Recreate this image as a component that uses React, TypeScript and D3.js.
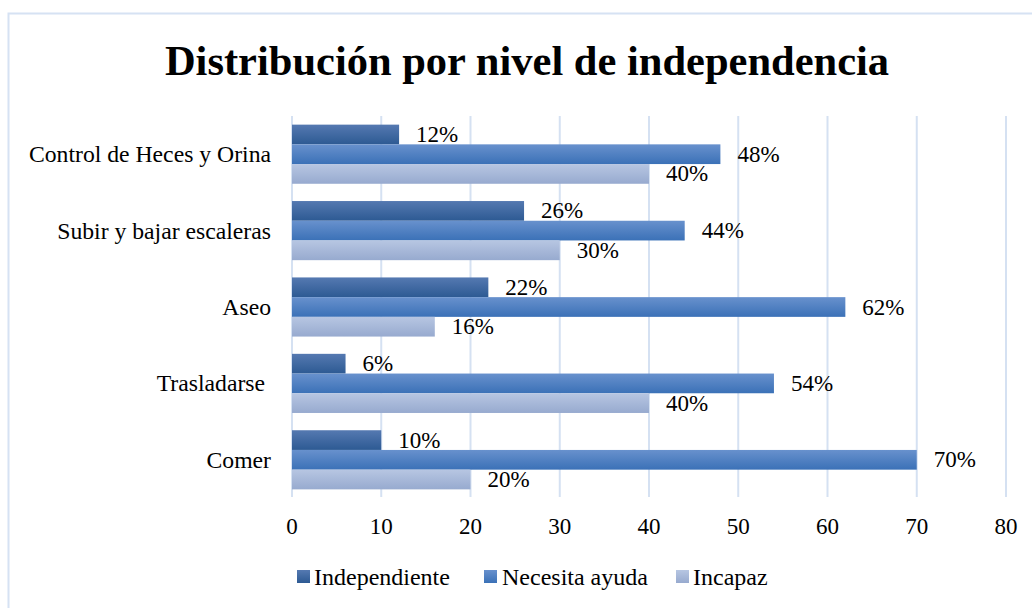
import React from "react";
import * as d3 from "d3";

const categories = ["Control de Heces y Orina", "Subir y bajar escaleras", "Aseo", "Trasladarse ", "Comer"];
const seriesNames = ["Independiente", "Necesita ayuda", "Incapaz"];
const independiente = [12, 26, 22, 6, 10];
const necesitaAyuda = [48, 44, 62, 54, 70];
const incapaz = [40, 30, 16, 40, 20];
const xTicks = [0, 10, 20, 30, 40, 50, 60, 70, 80];
const title = "Distribución por nivel de independencia";

const seriesValues = [independiente, necesitaAyuda, incapaz];
const gradients = [
  ["#5579b1", "#2d5a93"],
  ["#6891cd", "#3b71b7"],
  ["#b7c6e2", "#97aacf"],
];

const FONT = "'Liberation Serif', 'Times New Roman', serif";

export default function App() {
  const W = 1032, H = 608;
  const left = 292, right = 1006, top = 116, bottom = 498;
  const x = d3.scaleLinear().domain([0, 80]).range([left, right]);
  const y = d3.scaleBand().domain(categories).range([top, bottom]).paddingInner(0.226).paddingOuter(0.113);
  const inner = d3.scaleBand().domain(seriesNames).range([0, y.bandwidth()]);

  const legendItems = [
    { sx: 297, tx: 314 },
    { sx: 484, tx: 502 },
    { sx: 676, tx: 693 },
  ];

  return (
    <svg width={W} height={H} style={{ position: "absolute", left: 0, top: 0, background: "#fff" }}>
      <defs>
        {gradients.map((g, i) => (
          <linearGradient key={i} id={`g${i}`} x1="0" y1="0" x2="0" y2="1">
            <stop offset="0%" stopColor={g[0]} />
            <stop offset="100%" stopColor={g[1]} />
          </linearGradient>
        ))}
      </defs>
      <rect x={8.5} y={13.5} width={1040} height={620} fill="#fff" stroke="#d6e2f3" strokeWidth={2} />
      <text x={527} y={75} textAnchor="middle" fontFamily={FONT} fontWeight="bold" fontSize={42.5} fill="#000">
        {title}
      </text>
      {xTicks.map((t) => (
        <line key={t} x1={x(t)} x2={x(t)} y1={top} y2={bottom - 1} stroke="#d5e1f2" strokeWidth={2} />
      ))}
      {categories.map((c, ci) => (
        <g key={c}>
          {seriesNames.map((s, si) => {
            const v = seriesValues[si][ci];
            const y0 = (y(c) as number) + (inner(s) as number);
            const h = inner.bandwidth();
            return (
              <g key={s}>
                <rect x={x(0)} y={y0} width={x(v) - x(0)} height={h} fill={`url(#g${si})`} />
                <text x={x(v) + 17} y={y0 + h / 2} dominantBaseline="central" fontFamily={FONT} fontSize={23} fill="#000">
                  {v}%
                </text>
              </g>
            );
          })}
          <text
            x={271}
            y={(y(c) as number) + y.bandwidth() / 2}
            textAnchor="end"
            dominantBaseline="central"
            fontFamily={FONT}
            fontSize={23.7}
            fill="#000"
            style={{ whiteSpace: "pre" }}
          >
            {c}
          </text>
        </g>
      ))}
      {xTicks.map((t) => (
        <text key={t} x={x(t)} y={526} textAnchor="middle" dominantBaseline="central" fontFamily={FONT} fontSize={23} fill="#000">
          {t}
        </text>
      ))}
      {seriesNames.map((s, i) => (
        <g key={s}>
          <rect x={legendItems[i].sx} y={570} width={13} height={13} fill={`url(#g${i})`} />
          <text x={legendItems[i].tx} y={577} dominantBaseline="central" fontFamily={FONT} fontSize={24} fill="#000">
            {s}
          </text>
        </g>
      ))}
    </svg>
  );
}
